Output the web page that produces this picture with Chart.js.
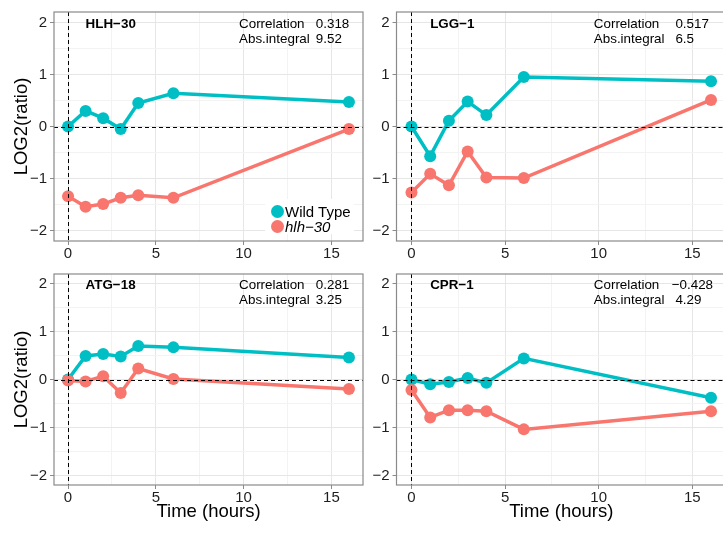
<!DOCTYPE html>
<html>
<head>
<meta charset="utf-8">
<script src="https://cdn.jsdelivr.net/npm/chart.js@4.4.0/dist/chart.umd.min.js"></script>
<style>
html,body{margin:0;padding:0;background:#fff;}
body{position:relative;width:723px;height:533px;overflow:hidden;font-family:"Liberation Sans",Arial,Helvetica,sans-serif;}
.pane{position:absolute;}
.pane canvas{display:block;}
.ann{position:absolute;white-space:nowrap;color:#000;font-size:13.4px;line-height:15px;}
.gene{font-weight:bold;}
.legend{position:absolute;background:#fff;}
.legrow{position:absolute;left:0;white-space:nowrap;font-size:15px;line-height:15px;color:#000;}
.dot{position:absolute;width:13px;height:13px;border-radius:50%;}
</style>
</head>
<body>
<script>
// ---------- data ----------
const times = [0, 1, 2, 3, 4, 6, 16];
const seriesNames = ['Wild Type', 'hlh\u221230'];
const geneNames = ['HLH\u221230', 'LGG\u22121', 'ATG\u221218', 'CPR\u22121'];
const correlations = ['0.318', '0.517', '0.281', '\u22120.428'];
const absIntegrals = ['9.52', '6.5', '3.25', '4.29'];

const hlh30WildType = [0, 0.30, 0.16, -0.05, 0.45, 0.64, 0.47];
const hlh30Mutant   = [-1.34, -1.54, -1.49, -1.37, -1.32, -1.37, -0.05];
const lgg1WildType  = [0, -0.57, 0.11, 0.48, 0.22, 0.95, 0.87];
const lgg1Mutant    = [-1.27, -0.91, -1.13, -0.48, -0.98, -0.99, 0.51];
const atg18WildType = [0, 0.49, 0.53, 0.48, 0.70, 0.67, 0.46];
const atg18Mutant   = [-0.02, -0.04, 0.07, -0.28, 0.23, 0.01, -0.20];
const cpr1WildType  = [0, -0.10, -0.05, 0.03, -0.07, 0.44, -0.38];
const cpr1Mutant    = [-0.22, -0.79, -0.64, -0.64, -0.66, -1.04, -0.66];

const xMajorTicks = [0, 5, 10, 15];
const xMinorTicks = [2.5, 7.5, 12.5];
const yMajorTicks = [-2, -1, 0, 1, 2];
const yMinorTicks = [-1.5, -0.5, 0.5, 1.5];

// ---------- styling / layout ----------
const COL_WT = '#00BFC4';
const COL_MUT = '#F8766D';
const FONT = '"Liberation Sans", Arial, Helvetica, sans-serif';

const panels = [
  {wt: hlh30WildType, mut: hlh30Mutant, left: 0,   top: 0,   w: 372, h: 262, area: {l: 54,    r: 363, t: 5,   b: 241}, yTitle: true,  xTitle: false},
  {wt: lgg1WildType,  mut: lgg1Mutant,  left: 363, top: 0,   w: 372, h: 262, area: {l: 396.5, r: 726, t: 5,   b: 241}, yTitle: false, xTitle: false},
  {wt: atg18WildType, mut: atg18Mutant, left: 0,   top: 262, w: 372, h: 271, area: {l: 54,    r: 363, t: 268, b: 485}, yTitle: true,  xTitle: true},
  {wt: cpr1WildType,  mut: cpr1Mutant,  left: 363, top: 262, w: 372, h: 271, area: {l: 396.5, r: 726, t: 268, b: 485}, yTitle: false, xTitle: true}
];

function fmt(v) { return v < 0 ? '\u2212' + Math.abs(v) : String(v); }

const decorPlugin = {
  id: 'decor',
  afterDatasetsDraw(chart) {
    const {ctx, chartArea: a, scales: {x, y}} = chart;
    ctx.save();
    ctx.strokeStyle = '#000';
    ctx.lineWidth = 1;
    ctx.setLineDash([4, 3]);
    const x0 = Math.round(x.getPixelForValue(0)) + 0.5;
    const y0 = Math.round(y.getPixelForValue(0)) + 0.5;
    ctx.beginPath();
    ctx.moveTo(x0, a.top); ctx.lineTo(x0, a.bottom);
    ctx.moveTo(a.left, y0); ctx.lineTo(a.right, y0);
    ctx.stroke();
    ctx.setLineDash([]);
    ctx.strokeStyle = '#8a8a8a';
    ctx.lineWidth = 1.2;
    ctx.strokeRect(a.left, a.top, a.right - a.left, a.bottom - a.top);
    ctx.restore();
  }
};

panels.forEach((p, i) => {
  const div = document.createElement('div');
  div.className = 'pane';
  div.style.left = p.left + 'px';
  div.style.top = p.top + 'px';
  div.style.width = p.w + 'px';
  div.style.height = p.h + 'px';
  const cv = document.createElement('canvas');
  cv.width = p.w; cv.height = p.h;
  cv.style.width = p.w + 'px'; cv.style.height = p.h + 'px';
  div.appendChild(cv);
  document.body.appendChild(div);

  const yW = p.area.l - p.left;
  const xH = p.top + p.h - p.area.b;

  const xAll = xMajorTicks.concat(xMinorTicks).sort((a, b) => a - b);
  const yAll = yMajorTicks.concat(yMinorTicks).sort((a, b) => a - b);

  const chart = new Chart(cv, {
    type: 'line',
    data: {
      datasets: [
        {label: seriesNames[1], data: times.map((t, k) => ({x: t, y: p.mut[k]})),
         borderColor: COL_MUT, backgroundColor: COL_MUT, pointBackgroundColor: COL_MUT,
         borderWidth: 3.5, pointRadius: 6, pointBorderWidth: 0, tension: 0, fill: false},
        {label: seriesNames[0], data: times.map((t, k) => ({x: t, y: p.wt[k]})),
         borderColor: COL_WT, backgroundColor: COL_WT, pointBackgroundColor: COL_WT,
         borderWidth: 3.5, pointRadius: 6, pointBorderWidth: 0, tension: 0, fill: false}
      ]
    },
    options: {
      responsive: false,
      animation: false,
      events: [],
      layout: {padding: {left: 0, top: p.area.t - p.top, right: p.left + p.w - p.area.r, bottom: 0}},
      plugins: {legend: {display: false}, tooltip: {enabled: false}},
      scales: {
        x: {
          type: 'linear', min: -0.8, max: 16.8,
          afterBuildTicks: s => { s.ticks = xAll.map(v => ({value: v})); },
          afterFit: s => { s.height = xH; },
          border: {display: false},
          grid: {
            color: c => (c.tick && xMajorTicks.includes(c.tick.value)) ? '#e6e6e6' : '#f3f3f3',
            lineWidth: 1,
            tickLength: 4,
            tickColor: c => (c.tick && xMajorTicks.includes(c.tick.value)) ? '#8a8a8a' : 'rgba(0,0,0,0)'
          },
          ticks: {
            autoSkip: false, maxRotation: 0, minRotation: 0, padding: 0,
            color: '#1e1e1e', font: {family: FONT, size: 15},
            callback: v => xMajorTicks.includes(v) ? fmt(v) : ''
          },
          title: {display: p.xTitle, text: 'Time (hours)', color: '#000',
                  font: {family: FONT, size: 18.5}, padding: {top: 0, bottom: 10}}
        },
        y: {
          type: 'linear', min: -2.2, max: 2.2,
          afterBuildTicks: s => { s.ticks = yAll.map(v => ({value: v})); },
          afterFit: s => { s.width = yW; },
          border: {display: false},
          grid: {
            color: c => (c.tick && yMajorTicks.includes(c.tick.value)) ? '#e6e6e6' : '#f3f3f3',
            lineWidth: 1,
            tickLength: 4,
            tickColor: c => (c.tick && yMajorTicks.includes(c.tick.value)) ? '#8a8a8a' : 'rgba(0,0,0,0)'
          },
          ticks: {
            autoSkip: false, padding: 3,
            color: '#1e1e1e', font: {family: FONT, size: 15},
            callback: v => yMajorTicks.includes(v) ? fmt(v) : ''
          },
          title: {display: p.yTitle, text: 'LOG2(ratio)', color: '#000',
                  font: {family: FONT, size: 18.5}, padding: {top: 10.5, bottom: 0}}
        }
      }
    },
    plugins: [decorPlugin]
  });

  // annotations positioned through the chart's own scales
  const xs = chart.scales.x, ys = chart.scales.y;
  const yTop = ys.getPixelForValue(2);
  function addText(txt, xv, cls, dy) {
    const d = document.createElement('div');
    d.className = 'ann' + (cls ? ' ' + cls : '');
    d.textContent = txt;
    d.style.left = (p.left + xs.getPixelForValue(xv)) + 'px';
    d.style.top = (p.top + yTop + dy - 7.5) + 'px';
    document.body.appendChild(d);
  }
  addText(geneNames[i], 1, 'gene', 1);
  addText('Correlation', 9.74, '', 1.3);
  addText('Abs.integral', 9.74, '', 16);
  const pad = s => (s.charAt(0) === '\u2212' ? s : '\u00a0' + s);
  addText(pad(correlations[i]), 13.9, '', 1.3);
  addText(pad(absIntegrals[i]), 13.9, '', 16);
});

// legend inside the first panel
(function () {
  const lg = document.createElement('div');
  lg.className = 'legend';
  lg.style.left = '265px'; lg.style.top = '199px';
  lg.style.width = '89px'; lg.style.height = '35px';
  const items = [[seriesNames[0], COL_WT, 'normal'], [seriesNames[1], COL_MUT, 'italic']];
  items.forEach((it, k) => {
    const dot = document.createElement('div');
    dot.className = 'dot';
    dot.style.background = it[1];
    dot.style.left = '5.5px';
    dot.style.top = (5.5 + k * 15) + 'px';
    lg.appendChild(dot);
    const t = document.createElement('div');
    t.className = 'legrow';
    t.style.left = '20px';
    t.style.top = (4.5 + k * 15) + 'px';
    t.style.fontStyle = it[2];
    t.textContent = it[0];
    lg.appendChild(t);
  });
  document.body.appendChild(lg);
})();
</script>
</body>
</html>
